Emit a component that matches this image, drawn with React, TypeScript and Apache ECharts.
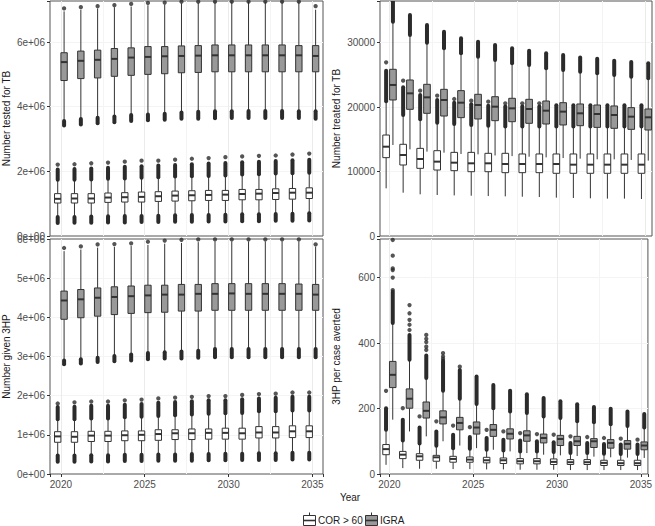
import React, { useEffect, useRef } from "react";
import * as echarts from "echarts";

// ---------------- data ----------------
const years = [2020, 2021, 2022, 2023, 2024, 2025, 2026, 2027, 2028, 2029, 2030, 2031, 2032, 2033, 2034, 2035];
const xMinorBreaks = [2022.5, 2027.5, 2032.5];
const groupNames = ["COR > 60", "IGRA"];
const panelTitles = ["Number tested for TB", "Number treated for TB", "Number given 3HP", "3HP per case averted"];

// each box row: [lower whisker, Q1, median, Q3, upper whisker]
// Panel 1: number tested for TB (millions)
const testedCorBox = [
  [0.59, 1.02, 1.15, 1.31, 1.74], [0.59, 1.02, 1.16, 1.31, 1.74], [0.6, 1.02, 1.16, 1.31, 1.75], [0.61, 1.04, 1.19, 1.33, 1.77],
  [0.62, 1.05, 1.2, 1.34, 1.78], [0.62, 1.05, 1.21, 1.36, 1.8], [0.63, 1.07, 1.23, 1.37, 1.82], [0.64, 1.08, 1.25, 1.39, 1.84],
  [0.65, 1.09, 1.26, 1.4, 1.85], [0.65, 1.1, 1.27, 1.41, 1.86], [0.66, 1.1, 1.28, 1.41, 1.87], [0.67, 1.12, 1.3, 1.44, 1.9],
  [0.67, 1.12, 1.31, 1.44, 1.91], [0.68, 1.13, 1.33, 1.46, 1.93], [0.69, 1.14, 1.34, 1.47, 1.94], [0.7, 1.16, 1.34, 1.49, 1.96],
];
const testedCorOutTop = [2.06, 2.07, 2.09, 2.11, 2.14, 2.16, 2.18, 2.2, 2.22, 2.24, 2.26, 2.28, 2.3, 2.32, 2.34, 2.36];
const testedCorOutBottom = [0.4, 0.41, 0.41, 0.42, 0.42, 0.43, 0.43, 0.44, 0.44, 0.45, 0.45, 0.46, 0.46, 0.47, 0.47, 0.48];
const testedCorDots = [[2.21], [2.22], [2.25], [2.27], [2.3], [2.33], [2.33], [2.36], [2.39], [2.41], [2.44], [2.46], [2.48], [2.49], [2.52], [2.55]];
const testedIgraBox = [
  [3.56, 4.81, 5.38, 5.67, 6.95], [3.62, 4.87, 5.42, 5.72, 7.0], [3.66, 4.89, 5.45, 5.75, 7.04], [3.7, 4.94, 5.48, 5.8, 7.08],
  [3.74, 4.97, 5.52, 5.82, 7.1], [3.76, 5.0, 5.54, 5.86, 7.14], [3.78, 5.02, 5.56, 5.86, 7.16], [3.82, 5.05, 5.57, 5.88, 7.2],
  [3.84, 5.06, 5.58, 5.89, 7.22], [3.86, 5.08, 5.59, 5.91, 7.24], [3.86, 5.08, 5.59, 5.91, 7.24], [3.87, 5.08, 5.59, 5.91, 7.24],
  [3.87, 5.08, 5.59, 5.91, 7.24], [3.87, 5.08, 5.59, 5.91, 7.24], [3.86, 5.08, 5.59, 5.89, 7.24], [3.86, 5.08, 5.57, 5.89, 7.0],
];
const testedIgraOutBottom = [3.42, 3.45, 3.49, 3.52, 3.56, 3.58, 3.6, 3.63, 3.63, 3.64, 3.65, 3.65, 3.65, 3.65, 3.65, 3.63];
const testedIgraDots = [[7.04], [7.08], [7.11], [7.14], [7.18], [7.21], [7.22], [7.25], [7.25], [7.25], [7.25], [7.25], [7.25], [7.25], [7.25], [7.11]];

// Panel 2: number treated for TB
const treatedCorBox = [
  [7400, 12160, 13860, 15670, 20900], [6720, 11020, 12570, 14230, 18780], [6470, 10500, 11950, 13600, 18100], [6360, 10240, 11540, 13240, 17590],
  [6300, 10140, 11380, 12980, 17380], [6250, 9980, 11280, 12980, 17230], [6200, 9980, 11280, 12830, 17100], [6150, 9830, 11170, 12830, 17000],
  [6100, 9830, 11170, 12730, 17000], [6050, 9830, 11170, 12730, 17000], [5950, 9730, 11170, 12730, 17000], [5900, 9730, 11070, 12730, 17000],
  [5850, 9730, 11070, 12730, 17000], [5800, 9730, 11070, 12730, 17000], [5800, 9730, 11070, 12730, 17000], [5740, 9730, 11070, 12730, 17000],
];
const treatedCorOutTop = [25660, 23070, 21880, 21100, 20690, 20430, 20200, 20100, 20100, 20100, 20300, 20300, 20300, 20300, 20300, 20300];
const treatedCorDots = [[26950], [24110], [22560], [21780], [21260], [21000], [20850], [20590], [20590], [20590], [], [], [], [], [], []];
const treatedIgraBox = [
  [14120, 21110, 23440, 25870, 33260], [13450, 19660, 22140, 24210, 31190], [13090, 19040, 21520, 23540, 30000], [12930, 18620, 21110, 22760, 29130],
  [12730, 18370, 20690, 22560, 28350], [12670, 18160, 20330, 21990, 27830], [12500, 17900, 20070, 21620, 27310], [12400, 17740, 19810, 21370, 26800],
  [12300, 17490, 19710, 21210, 26540], [12200, 17380, 19450, 20950, 26020], [12100, 17230, 19300, 20690, 25760], [12000, 17120, 19040, 20490, 25500],
  [11900, 16860, 18930, 20330, 25240], [11900, 16710, 18780, 20180, 25000], [11800, 16550, 18520, 19920, 24730], [11700, 16450, 18420, 19710, 24500],
];
const treatedIgraOutTop = [37000, 34300, 32750, 31710, 30680, 30160, 29640, 29130, 28760, 28350, 28100, 27700, 27500, 27200, 27000, 26800];

// Panel 3: number given 3HP (millions)
const givenCorBox = [
  [0.47, 0.81, 0.96, 1.08, 1.4], [0.47, 0.81, 0.95, 1.08, 1.4], [0.48, 0.83, 0.98, 1.09, 1.42], [0.48, 0.83, 0.98, 1.09, 1.42],
  [0.49, 0.85, 0.99, 1.1, 1.45], [0.49, 0.85, 1.0, 1.1, 1.46], [0.5, 0.86, 1.02, 1.13, 1.48], [0.5, 0.88, 1.04, 1.13, 1.5],
  [0.51, 0.88, 1.04, 1.15, 1.52], [0.51, 0.89, 1.05, 1.15, 1.54], [0.52, 0.89, 1.05, 1.17, 1.55], [0.52, 0.89, 1.04, 1.17, 1.56],
  [0.53, 0.92, 1.06, 1.21, 1.6], [0.53, 0.92, 1.06, 1.21, 1.6], [0.54, 0.93, 1.09, 1.23, 1.62], [0.54, 0.93, 1.09, 1.23, 1.62],
];
const givenCorOutTop = [1.71, 1.72, 1.74, 1.74, 1.77, 1.79, 1.82, 1.84, 1.86, 1.88, 1.88, 1.91, 1.93, 1.95, 1.97, 1.97];
const givenCorOutBottom = [0.31, 0.31, 0.32, 0.32, 0.33, 0.33, 0.34, 0.34, 0.34, 0.35, 0.35, 0.36, 0.36, 0.36, 0.37, 0.37];
const givenCorDots = [[1.8], [1.83], [1.85], [1.85], [1.88], [1.9], [1.93], [1.95], [1.97], [1.99], [1.99], [2.02], [2.04], [2.05], [2.08], [2.08]];
const givenIgraBox = [
  [2.9, 3.95, 4.43, 4.67, 5.69], [2.93, 3.99, 4.46, 4.71, 5.73], [2.97, 4.03, 4.5, 4.75, 5.78], [3.01, 4.07, 4.52, 4.78, 5.8],
  [3.05, 4.1, 4.54, 4.8, 5.82], [3.09, 4.12, 4.56, 4.82, 5.85], [3.11, 4.13, 4.58, 4.82, 5.88], [3.13, 4.16, 4.58, 4.84, 5.9],
  [3.15, 4.16, 4.6, 4.84, 5.92], [3.19, 4.18, 4.6, 4.86, 5.94], [3.19, 4.18, 4.61, 4.86, 5.94], [3.19, 4.18, 4.6, 4.86, 5.94],
  [3.19, 4.18, 4.6, 4.86, 5.94], [3.19, 4.18, 4.6, 4.86, 5.94], [3.19, 4.18, 4.6, 4.85, 5.94], [3.19, 4.18, 4.58, 4.84, 5.8],
];
const givenIgraOutBottom = [2.8, 2.82, 2.86, 2.88, 2.9, 2.93, 2.95, 2.95, 2.97, 2.98, 2.98, 2.98, 2.98, 2.98, 2.98, 2.98];
const givenIgraDots = [[5.77], [5.81], [5.86], [5.87], [5.89], [5.93], [5.96], [5.98], [5.99], [5.99], [5.99], [5.99], [5.99], [5.99], [5.99], [5.86]];

// Panel 4: 3HP per case averted
const avertedCorBox = [
  [28, 59, 76, 90, 135], [18, 47, 59, 69, 102], [16, 42, 54, 62, 93], [16, 39, 51, 57, 86],
  [15, 36, 46, 54, 79], [15, 36, 44, 52, 77], [14, 34, 42, 51, 74], [14, 32, 42, 49, 72],
  [13, 31, 39, 47, 69], [13, 31, 39, 47, 69], [13, 29, 37, 46, 67], [12, 29, 36, 44, 64],
  [12, 29, 36, 44, 64], [12, 26, 34, 42, 62], [12, 26, 33, 42, 61], [12, 26, 33, 42, 61],
];
const avertedCorOutTop = [201, 166, 142, 130, 120, 113, 110, 105, 102, 100, 97, 95, 95, 92, 90, 90];
const avertedCorDots = [[254], [201], [176], [161], [148], [143], [135], [130], [125], [122], [120], [115], [113], [110], [108], [105]];
const avertedIgraBox = [
  [166, 264, 303, 344, 461], [130, 201, 230, 260, 349], [115, 171, 193, 220, 293], [100, 153, 173, 193, 254],
  [87, 135, 156, 173, 230], [79, 122, 142, 159, 214], [74, 115, 135, 151, 201], [69, 107, 123, 138, 191],
  [64, 100, 118, 132, 186], [59, 95, 110, 122, 176], [57, 87, 107, 118, 171], [55, 87, 100, 115, 161],
  [53, 81, 100, 108, 158], [51, 79, 95, 105, 152], [50, 76, 92, 102, 147], [49, 74, 87, 98, 142],
];
const avertedIgraOutTop = [557, 425, 362, 346, 318, 298, 272, 254, 244, 232, 222, 213, 205, 199, 191, 183];
const avertedIgraDots = [[562, 600, 623, 628, 667, 715], [440, 456, 471, 491, 516], [379, 389, 403, 413, 425], [352, 359, 369], [328], [], [], [], [], [], [], [], [], [], [], []];

// ---------------- styling ----------------
const FONT = "'Liberation Sans', Arial, Helvetica, sans-serif";
const INK = "#333333";
const DOT = "#2b2b2b";
const COR_FILL = "#ffffff";
const IGRA_FILL = "#999999";
const MAJOR = "#ebebeb";
const MINOR = "#f4f4f4";
const TICK_TEXT = "#4d4d4d";

const isMult = (v: number, step: number) => Math.abs(v / step - Math.round(v / step)) < 1e-6;

function boxRender(dx: number, w: number, fill: string) {
  return (_p: any, api: any) => {
    const x = api.value(0) + dx;
    const lo = api.coord([x, api.value(1)]);
    const q1 = api.coord([x, api.value(2)]);
    const md = api.coord([x, api.value(3)]);
    const q3 = api.coord([x, api.value(4)]);
    const hi = api.coord([x, api.value(5)]);
    const half = api.size([w, 0])[0] / 2;
    const cx = lo[0];
    return {
      type: "group",
      children: [
        { type: "line", shape: { x1: cx, y1: hi[1], x2: cx, y2: q3[1] }, style: { stroke: INK, lineWidth: 1 } },
        { type: "line", shape: { x1: cx, y1: q1[1], x2: cx, y2: lo[1] }, style: { stroke: INK, lineWidth: 1 } },
        { type: "rect", shape: { x: cx - half, y: q3[1], width: half * 2, height: q1[1] - q3[1] }, style: { fill, stroke: INK, lineWidth: 1 } },
        { type: "line", shape: { x1: cx - half, y1: md[1], x2: cx + half, y2: md[1] }, style: { stroke: INK, lineWidth: 2 } },
      ],
    };
  };
}

function clusterRender(dx: number) {
  return (_p: any, api: any) => {
    const x = api.value(0) + dx;
    const a = api.coord([x, api.value(1)]);
    const b = api.coord([x, api.value(2)]);
    return {
      type: "line",
      shape: { x1: a[0], y1: a[1], x2: b[0], y2: b[1] },
      style: { stroke: DOT, lineWidth: 4, lineCap: "round" },
    };
  };
}

type Panel = {
  cor: number[][]; igra: number[][];
  corTop: number[] | null; igraTop: number[] | null;
  corBottom: number[] | null; igraBottom: number[] | null;
  corDots: number[][]; igraDots: number[][];
  dodge: number; width: number;
};

function panelSeries(g: number, p: Panel) {
  const out: any[] = [];
  const groups = [
    { name: groupNames[0], box: p.cor, top: p.corTop, bottom: p.corBottom, dots: p.corDots, dx: -p.dodge, fill: COR_FILL },
    { name: groupNames[1], box: p.igra, top: p.igraTop, bottom: p.igraBottom, dots: p.igraDots, dx: p.dodge, fill: IGRA_FILL },
  ];
  groups.forEach((gr, k) => {
    out.push({
      type: "custom", name: gr.name, xAxisIndex: g, yAxisIndex: g, clip: true, z: 2, silent: true,
      data: gr.box.map((r, i) => [years[i], ...r]),
      renderItem: boxRender(gr.dx, p.width, gr.fill),
    });
    const clusters: number[][] = [];
    if (gr.top) gr.box.forEach((r, i) => clusters.push([years[i], r[4], gr.top![i]]));
    if (gr.bottom) gr.box.forEach((r, i) => clusters.push([years[i], gr.bottom![i], r[0]]));
    if (clusters.length) {
      out.push({
        type: "custom", name: gr.name + " outliers", xAxisIndex: g, yAxisIndex: g, clip: true, z: 3, silent: true,
        data: clusters, renderItem: clusterRender(gr.dx),
      });
    }
    const dots: number[][] = [];
    gr.dots.forEach((list, i) => list.forEach((v) => dots.push([years[i] + gr.dx, v])));
    const scatter: any = {
      type: "scatter", name: gr.name + " points", xAxisIndex: g, yAxisIndex: g, clip: true, z: 3, silent: true,
      symbol: "circle", symbolSize: 4.3, itemStyle: { color: DOT }, data: dots,
    };
    if (k === 0) {
      scatter.markLine = {
        silent: true, symbol: ["none", "none"], label: { show: false }, z: 1,
        lineStyle: { color: MINOR, width: 1, type: "solid" },
        data: xMinorBreaks.map((v) => ({ xAxis: v })),
      };
    }
    out.push(scatter);
  });
  return out;
}

const panels: Panel[] = [
  { cor: testedCorBox, igra: testedIgraBox, corTop: testedCorOutTop, igraTop: null, corBottom: testedCorOutBottom, igraBottom: testedIgraOutBottom, corDots: testedCorDots, igraDots: testedIgraDots, dodge: 0.19, width: 0.38 },
  { cor: treatedCorBox, igra: treatedIgraBox, corTop: treatedCorOutTop, igraTop: treatedIgraOutTop, corBottom: null, igraBottom: null, corDots: treatedCorDots, igraDots: years.map(() => []), dodge: 0.2, width: 0.39 },
  { cor: givenCorBox, igra: givenIgraBox, corTop: givenCorOutTop, igraTop: null, corBottom: givenCorOutBottom, igraBottom: givenIgraOutBottom, corDots: givenCorDots, igraDots: givenIgraDots, dodge: 0.19, width: 0.38 },
  { cor: avertedCorBox, igra: avertedIgraBox, corTop: avertedCorOutTop, igraTop: avertedIgraOutTop, corBottom: null, igraBottom: null, corDots: avertedCorDots, igraDots: avertedIgraDots, dodge: 0.2, width: 0.39 },
];

// layout of the four panels
const grids = [
  { left: 48, top: 1, width: 275, height: 235 },
  { left: 380, top: 1, width: 272, height: 235 },
  { left: 48, top: 239, width: 275, height: 235 },
  { left: 380, top: 239, width: 272, height: 235 },
];
const xRanges = [[2019.35, 2035.63], [2019.44, 2035.42], [2019.35, 2035.63], [2019.44, 2035.42]];
const yMax = [7.27, 36470, 6.0, 718];
const yMajor = [2, 10000, 1, 200];
const yMinor = [1, 5000, 0.5, 100];
const sciLabels = [true, false, true, false];

const App: React.FC = () => {
  const ref = useRef<HTMLDivElement>(null);
  useEffect(() => {
    if (!ref.current) return;
    const chart = echarts.init(ref.current, undefined, { renderer: "svg" });
    const labelStyle = { color: TICK_TEXT, fontSize: 10, fontFamily: FONT };
    const xAxis = grids.map((_, g) => {
      const bottom = g >= 2;
      return {
        type: "value", gridIndex: g, min: xRanges[g][0], max: xRanges[g][1], splitNumber: 3,
        axisLine: { show: false },
        axisTick: { show: bottom, length: 3, lineStyle: { color: INK } },
        axisLabel: { show: bottom, ...labelStyle, margin: 5, formatter: (v: number) => (isMult(v, 5) ? String(Math.round(v)) : "") },
        splitLine: { show: true, showMinLine: false, showMaxLine: false, lineStyle: { color: MAJOR, width: 1 } },
      };
    });
    const yPrimary = grids.map((_, g) => ({
      type: "value", gridIndex: g, min: 0, max: yMax[g], interval: yMajor[g],
      name: panelTitles[g], nameLocation: "middle", nameGap: 39,
      nameTextStyle: { color: "#1a1a1a", fontSize: 10, fontFamily: FONT },
      axisLine: { show: false },
      axisTick: { show: true, length: 3, lineStyle: { color: INK } },
      axisLabel: {
        ...labelStyle, margin: 5,
        formatter: (v: number) => {
          if (!isMult(v, yMajor[g])) return "";
          if (sciLabels[g]) return v === 0 ? "0e+00" : `${Math.round(v)}e+06`;
          return String(Math.round(v));
        },
      },
      splitLine: { show: true, showMinLine: false, showMaxLine: false, lineStyle: { color: MAJOR, width: 1 } },
    }));
    const ySecondary = grids.map((_, g) => ({
      type: "value", gridIndex: g, min: 0, max: yMax[g], interval: yMinor[g],
      axisLine: { show: false }, axisTick: { show: false }, axisLabel: { show: false },
      splitLine: { show: true, showMinLine: false, showMaxLine: false, lineStyle: { color: ["rgba(0,0,0,0)", MINOR], width: 1 } },
    }));
    const series = panels.flatMap((p, g) => panelSeries(g, p));
    const legendY = 520.5;
    const legendGlyph = (x0: number, fill: string) => [
      { type: "line", shape: { x1: x0 + 6, y1: legendY - 8, x2: x0 + 6, y2: legendY + 8 }, style: { stroke: INK, lineWidth: 1 } },
      { type: "rect", shape: { x: x0, y: legendY - 5, width: 12, height: 10 }, style: { fill, stroke: INK, lineWidth: 1 } },
      { type: "line", shape: { x1: x0, y1: legendY, x2: x0 + 12, y2: legendY }, style: { stroke: INK, lineWidth: 1.6 } },
    ];
    chart.setOption({
      animation: false,
      backgroundColor: "#ffffff",
      grid: grids.map((gr) => ({ ...gr, show: true, borderColor: "#555555", borderWidth: 1, backgroundColor: "#ffffff", containLabel: false })),
      xAxis,
      yAxis: [...yPrimary, ...ySecondary],
      series,
      graphic: [
        { type: "text", x: 350, y: 497, style: { text: "Year", fill: "#1a1a1a", font: `10px ${FONT}`, align: "center", verticalAlign: "middle" } },
        ...legendGlyph(303.5, COR_FILL),
        { type: "text", x: 318, y: legendY, style: { text: groupNames[0], fill: "#1a1a1a", font: `10px ${FONT}`, align: "left", verticalAlign: "middle" } },
        ...legendGlyph(365.5, IGRA_FILL),
        { type: "text", x: 380, y: legendY, style: { text: groupNames[1], fill: "#1a1a1a", font: `10px ${FONT}`, align: "left", verticalAlign: "middle" } },
      ],
    });
    return () => chart.dispose();
  }, []);
  return <div ref={ref} style={{ position: "absolute", left: 0, top: 0, width: 655, height: 526 }} />;
};

export default App;
